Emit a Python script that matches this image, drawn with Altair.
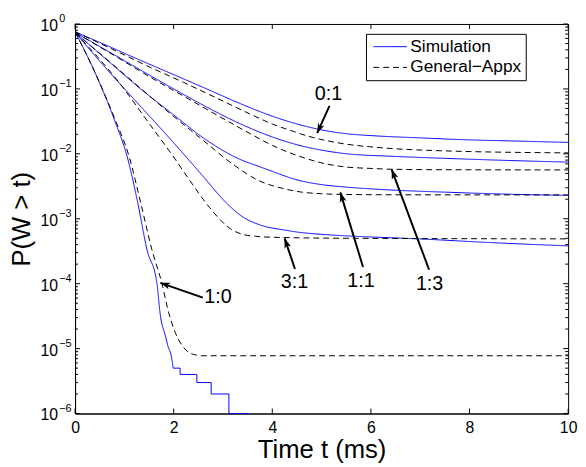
import math
import altair as alt
import pandas as pd

FONT = "Liberation Sans"
W, H = 500, 395

kinds = ["Simulation", "General\u2212Appx"]
ratios = ["0:1", "1:3", "1:1", "3:1", "1:0"]

# ---- simulation curves (t in ms, P(W>t)) ----
sim_01_t = [0, 0.67, 1.33, 2.0, 2.67, 3.33, 4.0, 4.6, 5.06, 5.5, 6.0, 7.0, 8.0, 9.0, 10.0]
sim_01_p = [0.759, 0.457, 0.275, 0.166, 0.100, 0.0603, 0.0380, 0.0275, 0.0229, 0.0204, 0.0191, 0.0176, 0.0164, 0.0157, 0.0150]

sim_13_t = [0, 0.67, 1.33, 2.0, 2.67, 3.33, 4.0, 4.6, 5.06, 5.46, 6.5, 7.53, 8.7, 10.0]
sim_13_p = [0.741, 0.380, 0.195, 0.100, 0.0525, 0.0295, 0.0182, 0.0132, 0.0112, 0.0101, 0.00912, 0.00851, 0.00794, 0.00746]

sim_11_t = [0, 0.67, 1.33, 2.0, 2.67, 3.33, 3.75, 4.0, 4.45, 5.06, 5.46, 6.5, 7.5, 8.7, 10.0]
sim_11_p = [0.741, 0.269, 0.100, 0.0398, 0.0162, 0.00832, 0.00631, 0.00537, 0.00407, 0.00331, 0.00309, 0.00275, 0.00257, 0.00240, 0.00229]

sim_31_t = [0, 0.67, 1.33, 2.0, 2.6, 3.06, 3.4, 3.73, 4.26, 4.46, 5.0, 5.46, 6.97, 8.5, 10.0]
sim_31_p = [0.741, 0.191, 0.0537, 0.0148, 0.00447, 0.00178, 0.00107, 0.000813, 0.000668, 0.000631, 0.000575, 0.000547, 0.000490, 0.000427, 0.000382]

sim_10_t = [0, 0.4, 0.8, 1.07, 1.27, 1.46, 1.66, 1.73, 1.83, 1.88, 1.96, 1.99]
sim_10_p = [0.759, 0.182, 0.0331, 0.00832, 0.00178, 0.000331, 0.000102, 3.24e-5, 1.59e-5, 1.12e-5, 7.1e-6, 5e-6]
# stepped tail of the 1:0 simulation (few samples left)
sim_10_step_t = [1.99, 2.13, 2.47, 2.76, 3.12, 3.52]
sim_10_step_p = [5e-6, 4e-6, 3e-6, 2e-6, 1e-6, 1e-6]

# ---- general approximation curves ----
appx_01_t = [0, 0.87, 1.53, 2.2, 2.87, 3.53, 4.0, 4.45, 4.6, 5.06, 5.5, 6.1, 7.5, 10.0]
appx_01_p = [0.759, 0.372, 0.214, 0.126, 0.0724, 0.0417, 0.0288, 0.0219, 0.0200, 0.0162, 0.0141, 0.0126, 0.0111, 0.01035]

appx_13_t = [0, 0.87, 1.53, 2.2, 2.87, 3.53, 4.0, 4.6, 5.06, 5.46, 6.0, 6.46, 7.5, 10.0]
appx_13_p = [0.741, 0.302, 0.151, 0.0776, 0.0398, 0.0209, 0.0135, 0.00891, 0.00708, 0.00631, 0.00596, 0.00578, 0.00569, 0.00565]

appx_11_t = [0, 0.73, 1.33, 1.93, 2.53, 3.2, 3.73, 4.2, 4.6, 5.0, 5.46, 6.5, 10.0]
appx_11_p = [0.741, 0.251, 0.102, 0.0417, 0.0178, 0.00692, 0.00385, 0.00295, 0.00257, 0.00243, 0.00237, 0.00234, 0.00233]

appx_31_t = [0, 0.87, 1.53, 2.0, 2.29, 2.73, 3.16, 3.4, 3.66, 4.0, 5.46, 10.0]
appx_31_p = [0.741, 0.132, 0.0275, 0.00891, 0.00427, 0.00148, 0.000692, 0.000575, 0.000537, 0.000519, 0.000501, 0.000490]

appx_10_t = [0, 0.4, 0.8, 1.1, 1.33, 1.56, 1.76, 1.9, 2.03, 2.17, 2.37, 2.59, 10.0]
appx_10_p = [0.759, 0.182, 0.0355, 0.00891, 0.00178, 0.000331, 0.000102, 3.55e-5, 1.78e-5, 1.12e-5, 8.3e-6, 7.76e-6, 7.76e-6]

# ---- axes ----
x_ticks = [0, 2, 4, 6, 8, 10]
y_major = [1, 1e-1, 1e-2, 1e-3, 1e-4, 1e-5, 1e-6]
y_exp = ["0", "\u22121", "\u22122", "\u22123", "\u22124", "\u22125", "\u22126"]
y_minor = [m * 10.0 ** k for k in range(-6, 0) for m in range(2, 10)]

# ---- annotations ----
ann_label = ["0:1", "1:3", "1:1", "3:1", "1:0"]
ann_text_t = [5.14, 7.19, 5.80, 4.45, 2.90]
ann_text_p = [0.0834, 1.0e-4, 1.08e-4, 1.05e-4, 6.17e-5]
ann_tail_t = [5.16, 7.18, 5.84, 4.46, 2.59]
ann_tail_p = [0.0548, 1.64e-4, 1.81e-4, 1.68e-4, 6.11e-5]
ann_tip_t = [4.91, 6.42, 5.38, 4.25, 1.73]
ann_tip_p = [0.0208, 0.00577, 0.00255, 0.000499, 1.03e-4]

sims = {"0:1": (sim_01_t, sim_01_p), "1:3": (sim_13_t, sim_13_p), "1:1": (sim_11_t, sim_11_p),
        "3:1": (sim_31_t, sim_31_p), "1:0": (sim_10_t, sim_10_p)}
appxs = {"0:1": (appx_01_t, appx_01_p), "1:3": (appx_13_t, appx_13_p), "1:1": (appx_11_t, appx_11_p),
         "3:1": (appx_31_t, appx_31_p), "1:0": (appx_10_t, appx_10_p)}

rows = []
for r in ratios:
    for kind, src in ((kinds[0], sims), (kinds[1], appxs)):
        ts, ps = src[r]
        for i, (t, p) in enumerate(zip(ts, ps)):
            rows.append({"ratio": r, "kind": kind, "series": kind + r, "t": t, "p": p, "idx": i})
df = pd.DataFrame(rows)
step_df = pd.DataFrame({"t": sim_10_step_t, "p": sim_10_step_p})


def px(t):
    return t / 10.0 * W


def py(p):
    return -math.log10(p) / 6.0 * H


angles = []
for a, b, c, d in zip(ann_tail_t, ann_tail_p, ann_tip_t, ann_tip_p):
    dx = px(c) - px(a)
    dy = py(d) - py(b)
    angles.append(math.degrees(math.atan2(dx, -dy)) % 360)

ann_df = pd.DataFrame({"label": ann_label, "lt": ann_text_t, "lp": ann_text_p,
                       "tt": ann_tail_t, "tp": ann_tail_p, "at": ann_tip_t, "ap": ann_tip_p,
                       "angle": angles})

xs = alt.Scale(domain=[0, 10], nice=False, zero=False)
ys = alt.Scale(type="log", domain=[1e-6, 1], nice=False)

x_axis = alt.Axis(values=x_ticks, ticks=False, grid=False, labelPadding=6, labelFlush=False,
                  title="Time t (ms)", titleY=45, titleBaseline="alphabetic")
y_axis = alt.Axis(labels=False, ticks=False, grid=False, title="P(W > t)",
                  titleX=-46, titleY=H / 2, titleBaseline="alphabetic")

legend = alt.Legend(title=None, orient="none", legendX=295, legendY=10, direction="vertical",
                    strokeColor="black", fillColor="white", padding=4, labelFontSize=17.5,
                    labelFont=FONT, labelColor="black", symbolType="M-0.65,0L3.35,0", symbolSize=289,
                    symbolStrokeWidth=1, symbolFillColor="transparent", labelOffset=23, rowPadding=3)

lines = alt.Chart(df).mark_line(strokeWidth=1, interpolate="monotone", clip=True).encode(
    x=alt.X("t:Q", scale=xs, axis=x_axis),
    y=alt.Y("p:Q", scale=ys, axis=y_axis),
    color=alt.Color("kind:N", scale=alt.Scale(domain=kinds, range=["#0000ff", "#000000"]), legend=legend),
    strokeDash=alt.StrokeDash("kind:N", scale=alt.Scale(domain=kinds, range=[[1, 0], [6, 4]]), legend=legend),
    detail="series:N",
    order="idx:Q",
)

steps = alt.Chart(step_df).mark_line(strokeWidth=1, interpolate="step-after", color="#0000ff", clip=False).encode(
    x=alt.X("t:Q", scale=xs), y=alt.Y("p:Q", scale=ys))

xt_df = pd.DataFrame({"t": x_ticks})
xt_bot = alt.Chart(xt_df).mark_rule(color="black", strokeWidth=1).encode(
    x=alt.X("t:Q", scale=xs), y=alt.value(H), y2=alt.value(H - 5))
xt_top = alt.Chart(xt_df).mark_rule(color="black", strokeWidth=1).encode(
    x=alt.X("t:Q", scale=xs), y=alt.value(0), y2=alt.value(5))

ymaj_df = pd.DataFrame({"p": y_major, "e": y_exp})
ymin_df = pd.DataFrame({"p": y_minor})
yt_l = alt.Chart(ymaj_df).mark_rule(color="black", strokeWidth=1).encode(
    y=alt.Y("p:Q", scale=ys), x=alt.value(0), x2=alt.value(5))
yt_r = alt.Chart(ymaj_df).mark_rule(color="black", strokeWidth=1).encode(
    y=alt.Y("p:Q", scale=ys), x=alt.value(W), x2=alt.value(W - 5))
ym_l = alt.Chart(ymin_df).mark_rule(color="black", strokeWidth=1).encode(
    y=alt.Y("p:Q", scale=ys), x=alt.value(0), x2=alt.value(3))
ym_r = alt.Chart(ymin_df).mark_rule(color="black", strokeWidth=1).encode(
    y=alt.Y("p:Q", scale=ys), x=alt.value(W), x2=alt.value(W - 3))

ylab10 = alt.Chart(ymaj_df).mark_text(align="left", baseline="middle", fontSize=16, font=FONT,
                                      color="black", dy=2).encode(
    y=alt.Y("p:Q", scale=ys), x=alt.value(-35), text=alt.value("10"))
ylabexp = alt.Chart(ymaj_df).mark_text(align="left", baseline="middle", fontSize=11, font=FONT,
                                       color="black", dy=-5).encode(
    y=alt.Y("p:Q", scale=ys), x=alt.value(-16), text="e:N")

arrows = alt.Chart(ann_df).mark_rule(color="black", strokeWidth=2).encode(
    x=alt.X("tt:Q", scale=xs), y=alt.Y("tp:Q", scale=ys), x2="at:Q", y2="ap:Q")
heads = alt.Chart(ann_df).mark_point(shape="M0,0L-0.35,1L0,0.75L0.35,1Z", filled=True, size=400,
                                     color="black", opacity=1, strokeWidth=0).encode(
    x=alt.X("at:Q", scale=xs), y=alt.Y("ap:Q", scale=ys), angle=alt.Angle("angle:Q", scale=None))
labels = alt.Chart(ann_df).mark_text(fontSize=20, font=FONT, color="black", align="center",
                                     baseline="middle").encode(
    x=alt.X("lt:Q", scale=xs), y=alt.Y("lp:Q", scale=ys), text="label:N")

chart = alt.layer(lines, steps, xt_bot, xt_top, yt_l, yt_r, ym_l, ym_r, ylab10, ylabexp,
                  arrows, heads, labels).properties(
    width=W, height=H,
    padding={"left": 68, "top": 13, "right": 10, "bottom": 50},
    autosize=alt.AutoSizeParams(type="none"),
    background="white",
).configure_view(stroke="black", strokeWidth=1).configure_axis(
    domainColor="black", domainWidth=1, labelFont=FONT, labelFontSize=16, labelColor="black",
    titleFont=FONT, titleFontSize=26, titleFontWeight="normal", titleColor="black",
)

chart.save("out.html", embed_options={"renderer": "svg", "actions": False})
